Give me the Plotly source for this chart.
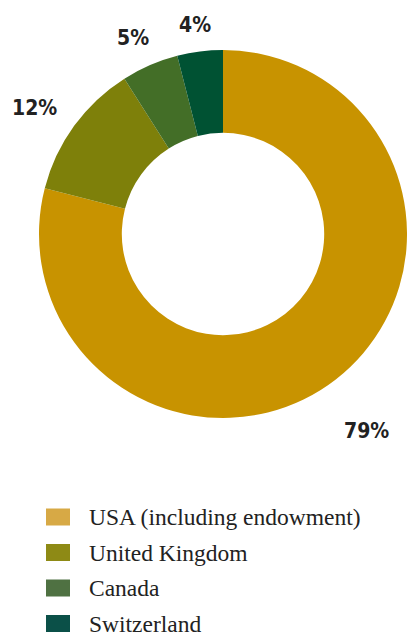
import math
import plotly.graph_objects as go

# ---- data ----
countries = ["USA (including endowment)", "United Kingdom", "Canada", "Switzerland"]
shares = [79, 12, 5, 4]

# ---- styles ----
slice_colors = ["#C89300", "#7E800A", "#436E27", "#005233"]
legend_colors = ["#D7A945", "#8E8A15", "#4F7142", "#0B5048"]
label_radius = [1.30, 1.23, 1.17, 1.15]   # label distance, in pie radii
label_nudge = [(-3, 8), (-5, 7), (-5, 2), (-1, 1)]  # pixel nudges

W, H = 407, 641
cx_px, cy_px = 223, 234      # pie centre in pixels
R_px = 184                   # pie radius in pixels

dom_x = [(cx_px - R_px) / W, min(1.0, (cx_px + R_px) / W)]
dom_y = [1 - (cy_px + R_px) / H, 1 - (cy_px - R_px) / H]

fig = go.Figure()
fig.add_trace(go.Pie(
    labels=countries,
    values=shares,
    hole=0.55,
    sort=False,
    direction="clockwise",
    rotation=0,
    marker=dict(colors=slice_colors, line=dict(width=0)),
    textinfo="none",
    hoverinfo="label+percent",
    showlegend=False,
    domain=dict(x=dom_x, y=dom_y),
))

# percentage labels placed at each slice's mid-angle
annotations = []
total = sum(shares)
cum = 0
for v, rf, (nx, ny) in zip(shares, label_radius, label_nudge):
    mid = (cum + v / 2) / total * 2 * math.pi
    cum += v
    px = cx_px + rf * R_px * math.sin(mid) + nx
    py = cy_px - rf * R_px * math.cos(mid) + ny
    annotations.append(dict(
        x=px / W, y=1 - py / H, xref="paper", yref="paper",
        text=f"{round(v / total * 100)}%", showarrow=False,
        xanchor="center", yanchor="middle",
        font=dict(family="DejaVu Sans Condensed, DejaVu Sans, sans-serif",
                  size=21, color="#222222", weight="bold"),
    ))

# legend drawn as swatches + serif text
shapes = []
leg_x0, leg_w, leg_h = 46, 24, 17
leg_y0, leg_step = 517, 35.5
for i, (name, col) in enumerate(zip(countries, legend_colors)):
    yc = leg_y0 + i * leg_step
    shapes.append(dict(
        type="rect", xref="paper", yref="paper",
        x0=leg_x0 / W, x1=(leg_x0 + leg_w) / W,
        y0=1 - (yc + leg_h / 2) / H, y1=1 - (yc - leg_h / 2) / H,
        fillcolor=col, line=dict(width=0),
    ))
    annotations.append(dict(
        x=87 / W, y=1 - yc / H, xref="paper", yref="paper",
        text=name, showarrow=False, xanchor="left", yanchor="middle",
        font=dict(family="Liberation Serif", size=23.5, color="#222222"),
    ))

fig.update_layout(
    width=W, height=H,
    margin=dict(l=0, r=0, t=0, b=0),
    paper_bgcolor="white", plot_bgcolor="white",
    annotations=annotations, shapes=shapes,
)

fig.write_html("out.html")
